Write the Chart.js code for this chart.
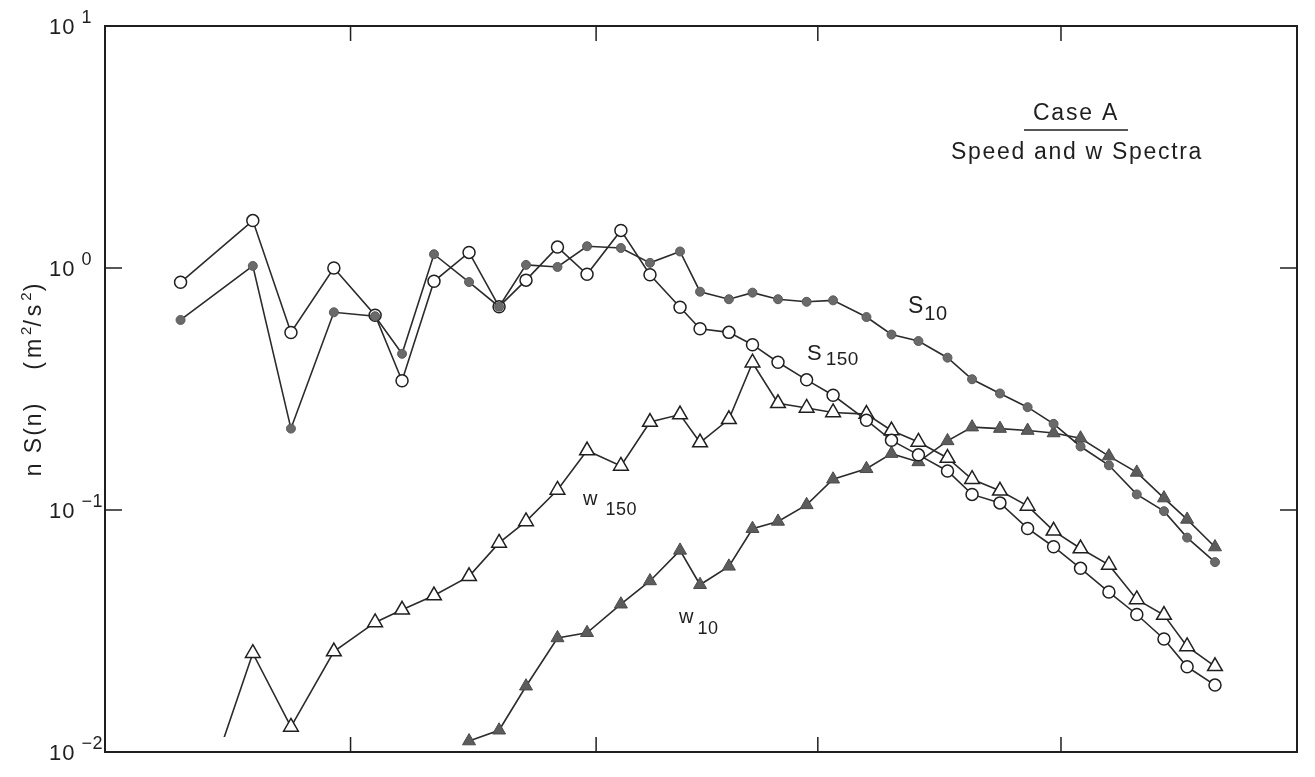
<!DOCTYPE html>
<html lang="en">
<head>
  <meta charset="UTF-8">
  <title>Case A - Speed and w Spectra</title>
  <style>
    body {
      margin: 0;
      background: #fff;
    }
    .wrap {
      width: 1315px;
      height: 777px;
    }
  </style>
</head>
<body>
  <div class="wrap"><canvas id="specChart"></canvas></div>

  <script src="https://cdn.jsdelivr.net/npm/chart.js"></script>
  <script>
    // position along the (unlabelled, log) frequency axis, in decades from the left edge
    var xPos = [0.317, 0.62, 0.78, 0.96, 1.133, 1.246, 1.38, 1.527, 1.653, 1.766, 1.898, 2.022,
                2.164, 2.286, 2.412, 2.496, 2.617, 2.716, 2.823, 2.943, 3.054, 3.194, 3.299, 3.412,
                3.534, 3.637, 3.754, 3.870, 3.979, 4.092, 4.211, 4.328, 4.442, 4.539, 4.656];
    var xTicks = [1.03, 2.06, 2.99, 4.01];
    var yTicks = [10, 1, 0.1, 0.01];
    var yTickExp = ['1', '0', '\u22121', '\u22122'];

    // n S(n), m^2/s^2
    var s10 = [0.61, 1.02, 0.217, 0.656, 0.632, 0.442, 1.14, 0.875, 0.692, 1.03, 1.01, 1.23,
               1.21, 1.05, 1.17, 0.798, 0.743, 0.791, 0.743, 0.725, 0.735, 0.627, 0.531, 0.499,
               0.426, 0.347, 0.303, 0.266, 0.227, 0.183, 0.153, 0.116, 0.0989, 0.0769, 0.0609];
    var s150 = [0.873, 1.57, 0.541, 1.00, 0.638, 0.342, 0.881, 1.16, 0.692, 0.891, 1.22, 0.942,
                1.43, 0.938, 0.688, 0.561, 0.542, 0.482, 0.408, 0.345, 0.298, 0.235, 0.194, 0.169,
                0.145, 0.116, 0.107, 0.0839, 0.0705, 0.0574, 0.0458, 0.0370, 0.0293, 0.0225, 0.0189];
    var w150 = [0.0034, 0.0256, 0.0127, 0.0260, 0.0343, 0.0387, 0.0443, 0.0532, 0.0731, 0.0897, 0.121, 0.176,
                0.152, 0.231, 0.248, 0.190, 0.237, 0.406, 0.276, 0.264, 0.253, 0.249, 0.213, 0.191,
                0.164, 0.134, 0.120, 0.104, 0.0820, 0.0693, 0.0593, 0.0427, 0.0368, 0.0273, 0.0226];
    var w10 = [null, null, null, null, null, null, null, 0.0111, 0.0123, 0.0187, 0.0296, 0.0311,
               0.0408, 0.0509, 0.0681, 0.0491, 0.0585, 0.0837, 0.0897, 0.105, 0.134, 0.148, 0.171, 0.158,
               0.193, 0.220, 0.217, 0.213, 0.208, 0.198, 0.167, 0.143, 0.112, 0.0914, 0.0703];

    var ink = '#1f1f1f';
    var FONT = '"Liberation Sans", Arial, sans-serif';

    function pts(vals) {
      return vals.map(function (v, i) { return { x: xPos[i], y: v }; });
    }

    function spaced(ctx, text, x, y, size, spacing, align) {
      ctx.font = size + 'px ' + FONT;
      ctx.letterSpacing = spacing + 'px';
      ctx.textAlign = align || 'left';
      ctx.fillText(text, x, y);
      var w = ctx.measureText(text).width;
      ctx.letterSpacing = '0px';
      return w;
    }

    function subLabel(ctx, main, sub, x, y, mainSize, subSize, gap, drop) {
      var w = spaced(ctx, main, x, y, mainSize, 0);
      spaced(ctx, sub, x + w + gap, y + drop, subSize, 0.5);
    }

    // frame, inward ticks and all the text
    var decor = {
      id: 'decor',
      afterDatasetsDraw: function (chart) {
        var ctx = chart.ctx, a = chart.chartArea;
        var xs = chart.scales.x, ys = chart.scales.y;
        ctx.save();
        ctx.strokeStyle = ink;
        ctx.fillStyle = ink;
        ctx.textBaseline = 'alphabetic';

        ctx.lineWidth = 2;
        ctx.strokeRect(a.left, a.top, a.right - a.left, a.bottom - a.top);

        ctx.lineWidth = 1.5;
        ctx.beginPath();
        xTicks.forEach(function (t) {
          var px = xs.getPixelForValue(t);
          ctx.moveTo(px, a.bottom); ctx.lineTo(px, a.bottom - 15);
          ctx.moveTo(px, a.top); ctx.lineTo(px, a.top + 15);
        });
        yTicks.slice(1, -1).forEach(function (t) {
          var py = ys.getPixelForValue(t);
          ctx.moveTo(a.left, py); ctx.lineTo(a.left + 17, py);
          ctx.moveTo(a.right, py); ctx.lineTo(a.right - 17, py);
        });
        ctx.stroke();

        // y tick labels 10^k
        yTicks.forEach(function (t, i) {
          var py = ys.getPixelForValue(t);
          var w = spaced(ctx, '10', 49, py + 8, 22, 1);
          spaced(ctx, yTickExp[i], 49 + w + 6, py - 3, 18, 0.5);
        });

        // y axis title
        ctx.save();
        ctx.translate(33, 380);
        ctx.rotate(-Math.PI / 2);
        var parts = [['n S(n)', 23, 0, 2], ['     ', 23, 0, 0], ['(m', 23, 0, 4], ['2', 15, -10, 0], ['/s', 23, 0, 4],
                     ['2', 15, -10, 1], [')', 23, 0, 0]];
        var total = 0;
        parts.forEach(function (p) {
          ctx.font = p[1] + 'px ' + FONT;
          ctx.letterSpacing = p[3] + 'px';
          total += ctx.measureText(p[0]).width;
        });
        var cx = -total / 2;
        parts.forEach(function (p) {
          cx += spaced(ctx, p[0], cx, 8 + p[2], p[1], p[3]);
        });
        ctx.restore();

        // title block
        spaced(ctx, 'Case A', 1076, 120, 23, 1.8, 'center');
        ctx.lineWidth = 1.5;
        ctx.beginPath();
        ctx.moveTo(1024, 130); ctx.lineTo(1128, 130);
        ctx.stroke();
        spaced(ctx, 'Speed and w Spectra', 1077, 159, 23, 1.7, 'center');

        // curve labels
        subLabel(ctx, 'S', '10', 908, 313, 23, 20, 1, 7);
        subLabel(ctx, 'S', '150', 807, 360, 22, 19, 4, 5);
        subLabel(ctx, 'w', '150', 583, 505, 20, 18, 8, 10);
        subLabel(ctx, 'w', '10', 679, 623, 20, 18, 4, 11);

        ctx.restore();
      }
    };

    var line = '#2b2b2b';
    var ctx = document.getElementById('specChart').getContext('2d');
    var specChart = new Chart(ctx, {
      type: 'line',
      data: {
        datasets: [{
          label: 'S10',
          data: pts(s10),
          borderColor: line,
          borderWidth: 1.6,
          pointStyle: 'circle',
          pointRadius: 4.5,
          pointBackgroundColor: '#6a6a6a',
          pointBorderColor: '#5a5a5a',
          pointBorderWidth: 1
        }, {
          label: 'S150',
          data: pts(s150),
          borderColor: line,
          borderWidth: 1.6,
          pointStyle: 'circle',
          pointRadius: 6,
          pointBackgroundColor: '#fff',
          pointBorderColor: ink,
          pointBorderWidth: 1.5
        }, {
          label: 'w150',
          data: pts(w150),
          borderColor: line,
          borderWidth: 1.6,
          clip: { left: 0, top: 0, right: 0, bottom: -15 },
          pointStyle: 'triangle',
          pointRadius: 8.5,
          pointBackgroundColor: '#fff',
          pointBorderColor: ink,
          pointBorderWidth: 1.5
        }, {
          label: 'w10',
          data: pts(w10),
          borderColor: line,
          borderWidth: 1.6,
          pointStyle: 'triangle',
          pointRadius: 7.5,
          pointBackgroundColor: '#5c5c5c',
          pointBorderColor: '#4a4a4a',
          pointBorderWidth: 1
        }]
      },
      options: {
        responsive: true,
        maintainAspectRatio: false,
        animation: false,
        layout: {
          padding: { left: 105, right: 18, top: 26, bottom: 25 }
        },
        plugins: {
          legend: { display: false },
          tooltip: { enabled: false }
        },
        scales: {
          x: { type: 'linear', min: 0, max: 5, display: false },
          y: { type: 'logarithmic', min: 0.01, max: 10, display: false }
        }
      },
      plugins: [decor]
    });
  </script>
</body>
</html>
